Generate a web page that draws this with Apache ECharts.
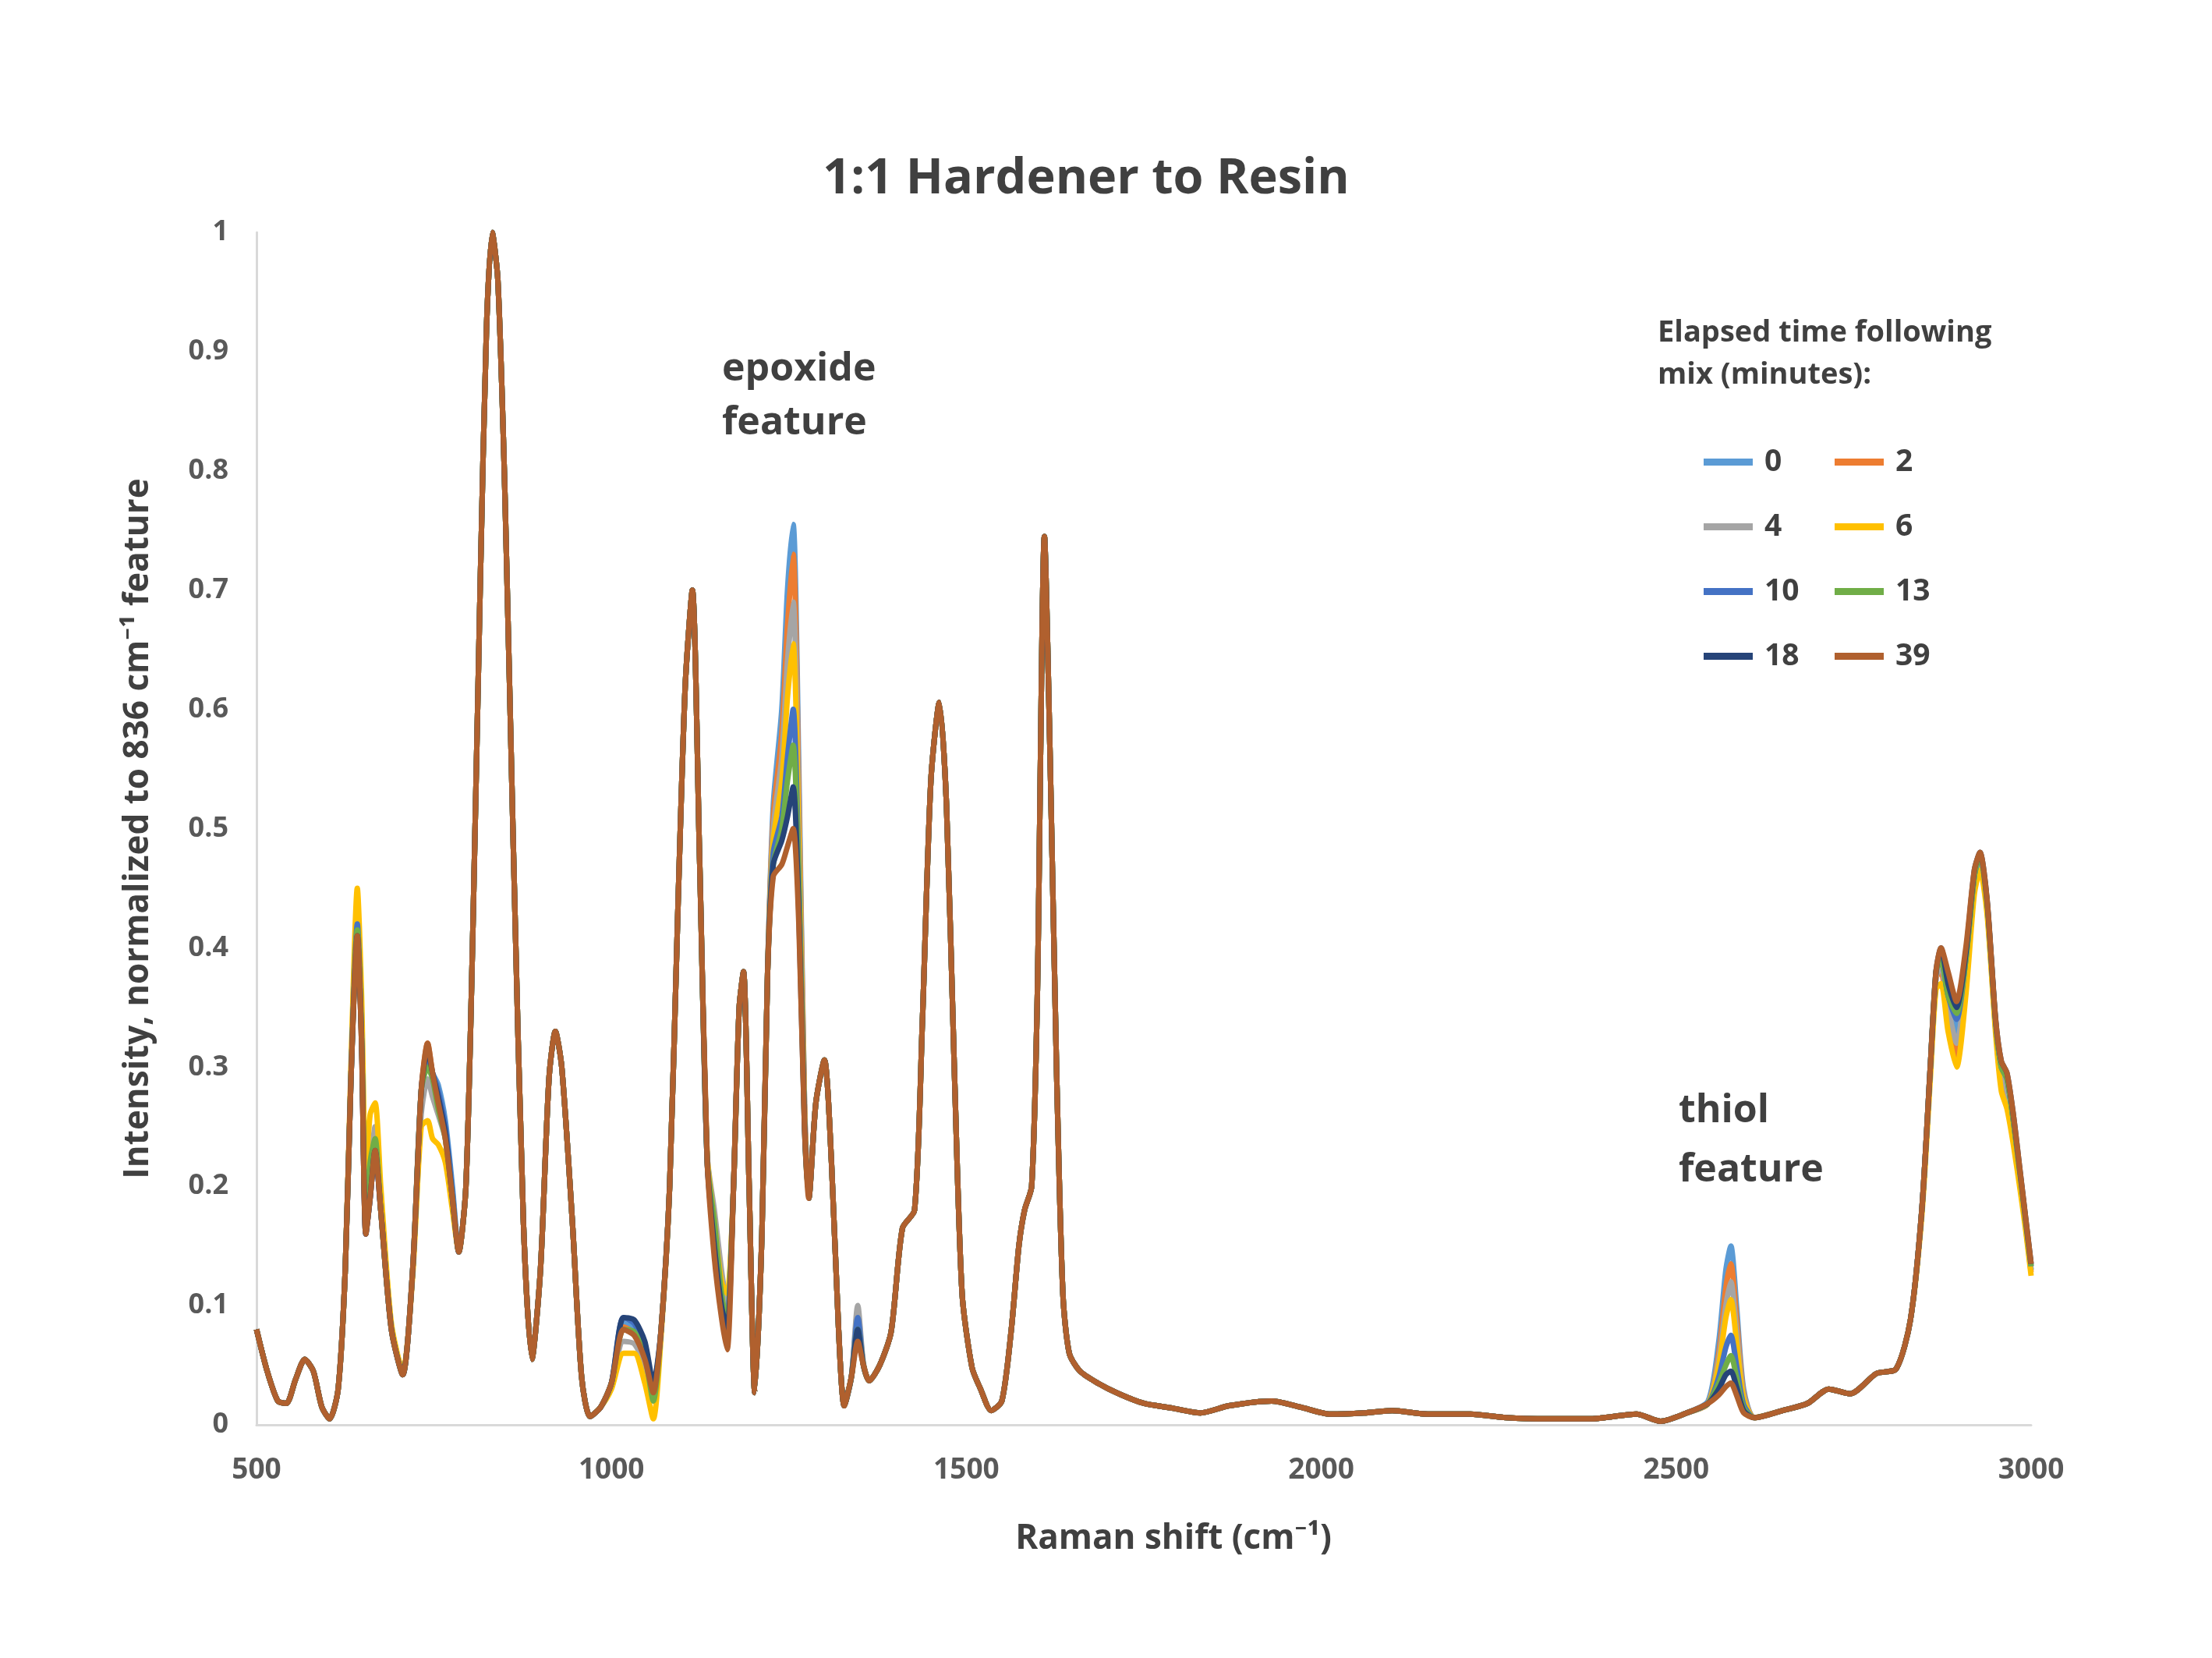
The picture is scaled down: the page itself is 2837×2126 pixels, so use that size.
<!DOCTYPE html>
<html>
<head>
<meta charset="utf-8">
<script src="https://cdn.jsdelivr.net/npm/echarts@6/dist/echarts.min.js"></script>
<style>
html,body{margin:0;padding:0;background:#fff;}
#chart{width:2837px;height:2126px;}
</style>
</head>
<body>
<div id="chart"></div>
<script>
// Raman shift (cm^-1) sample positions shared by all spectra
const ramanShift = [
500,515,530,542,555,568,580,592,603,615,
625,633,642,648,654,660,667,675,690,706,
720,732,741,748,756,766,776,785,795,805,
815,824,832,840,850,862,876,888,900,912,
921,930,945,958,970,985,1000,1017,1032,1047,
1059,1070,1082,1094,1104,1114,1124,1135,1145,1155,
1163,1172,1180,1186,1194,1202,1212,1220,1228,1240,
1248,1256,1264,1272,1278,1288,1300,1310,1320,1328,
1338,1347,1355,1363,1378,1394,1410,1427,1438,1450,
1462,1472,1483,1494,1508,1520,1535,1550,1563,1574,
1582,1592,1600,1610,1618,1627,1636,1645,1660,1685,
1715,1750,1790,1830,1870,1930,1970,2013,2060,2100,
2150,2210,2260,2320,2380,2444,2478,2515,2545,2560,
2570,2577,2585,2595,2610,2650,2685,2715,2745,2782,
2810,2830,2846,2858,2866,2873,2883,2895,2908,2920,
2928,2938,2950,2958,2966,2975,2985,2993,3000];

const t0 = [
0.080,0.045,0.020,0.018,0.038,0.055,0.045,0.015,0.005,0.030,
0.130,0.290,0.420,0.330,0.160,0.190,0.240,0.180,0.080,0.042,
0.130,0.280,0.310,0.295,0.285,0.255,0.200,0.145,0.200,0.420,
0.700,0.920,1.000,0.960,0.780,0.480,0.170,0.055,0.130,0.290,
0.330,0.300,0.170,0.040,0.007,0.015,0.035,0.085,0.080,0.060,
0.030,0.080,0.200,0.440,0.620,0.700,0.480,0.220,0.170,0.120,
0.100,0.200,0.350,0.380,0.200,0.027,0.160,0.380,0.520,0.600,
0.700,0.755,0.550,0.270,0.190,0.270,0.306,0.220,0.080,0.016,
0.040,0.095,0.050,0.037,0.050,0.078,0.165,0.180,0.337,0.540,
0.606,0.520,0.300,0.110,0.048,0.030,0.012,0.020,0.078,0.150,
0.180,0.200,0.360,0.745,0.560,0.300,0.110,0.060,0.045,0.035,
0.026,0.018,0.014,0.010,0.016,0.020,0.015,0.009,0.010,0.012,
0.009,0.009,0.006,0.005,0.005,0.009,0.003,0.010,0.020,0.070,
0.130,0.150,0.100,0.030,0.006,0.012,0.018,0.030,0.026,0.043,
0.047,0.088,0.180,0.300,0.375,0.390,0.360,0.330,0.380,0.455,
0.475,0.435,0.335,0.295,0.285,0.250,0.205,0.165,0.130];

const t2 = [
0.080,0.045,0.020,0.018,0.038,0.055,0.045,0.015,0.005,0.030,
0.130,0.290,0.410,0.320,0.160,0.190,0.235,0.180,0.080,0.042,
0.130,0.280,0.320,0.295,0.275,0.240,0.190,0.145,0.200,0.420,
0.700,0.920,1.000,0.960,0.780,0.480,0.170,0.055,0.130,0.290,
0.330,0.300,0.170,0.040,0.007,0.015,0.035,0.082,0.077,0.055,
0.027,0.080,0.200,0.440,0.620,0.700,0.480,0.220,0.160,0.110,
0.090,0.200,0.350,0.380,0.200,0.027,0.160,0.380,0.510,0.580,
0.670,0.730,0.530,0.270,0.190,0.270,0.306,0.220,0.080,0.016,
0.040,0.090,0.050,0.037,0.050,0.078,0.165,0.180,0.337,0.540,
0.606,0.520,0.300,0.110,0.048,0.030,0.012,0.020,0.078,0.150,
0.180,0.200,0.360,0.745,0.560,0.300,0.110,0.060,0.045,0.035,
0.026,0.018,0.014,0.010,0.016,0.020,0.015,0.009,0.010,0.012,
0.009,0.009,0.006,0.005,0.005,0.009,0.003,0.010,0.018,0.060,
0.115,0.135,0.090,0.027,0.006,0.012,0.018,0.030,0.026,0.043,
0.047,0.088,0.180,0.300,0.375,0.380,0.340,0.310,0.370,0.450,
0.470,0.432,0.332,0.285,0.270,0.240,0.200,0.162,0.128];

const t4 = [
0.080,0.045,0.020,0.018,0.038,0.055,0.045,0.015,0.005,0.030,
0.130,0.295,0.430,0.330,0.165,0.210,0.250,0.185,0.080,0.042,
0.130,0.260,0.290,0.275,0.260,0.240,0.190,0.145,0.200,0.420,
0.700,0.920,1.000,0.960,0.780,0.480,0.170,0.055,0.130,0.290,
0.330,0.300,0.170,0.040,0.007,0.015,0.035,0.070,0.068,0.050,
0.022,0.080,0.200,0.440,0.620,0.700,0.480,0.225,0.180,0.130,
0.100,0.200,0.350,0.380,0.200,0.027,0.160,0.380,0.500,0.560,
0.640,0.690,0.510,0.260,0.190,0.270,0.306,0.220,0.080,0.016,
0.040,0.100,0.052,0.037,0.050,0.078,0.165,0.180,0.337,0.540,
0.606,0.520,0.300,0.110,0.048,0.030,0.012,0.020,0.078,0.150,
0.180,0.200,0.360,0.745,0.560,0.300,0.110,0.060,0.045,0.035,
0.026,0.018,0.014,0.010,0.016,0.020,0.015,0.009,0.010,0.012,
0.009,0.009,0.006,0.005,0.005,0.009,0.003,0.010,0.018,0.055,
0.100,0.120,0.080,0.025,0.006,0.012,0.018,0.030,0.026,0.043,
0.047,0.088,0.180,0.300,0.375,0.385,0.350,0.320,0.375,0.455,
0.475,0.435,0.335,0.290,0.280,0.245,0.205,0.165,0.130];

const t6 = [
0.080,0.045,0.020,0.018,0.038,0.055,0.045,0.015,0.005,0.030,
0.130,0.300,0.450,0.360,0.210,0.260,0.270,0.200,0.085,0.045,
0.125,0.250,0.255,0.240,0.235,0.220,0.180,0.145,0.200,0.420,
0.700,0.920,1.000,0.960,0.780,0.480,0.170,0.055,0.130,0.290,
0.330,0.300,0.170,0.040,0.007,0.015,0.030,0.060,0.060,0.035,
0.005,0.075,0.200,0.440,0.620,0.700,0.480,0.225,0.170,0.120,
0.110,0.200,0.350,0.380,0.200,0.027,0.160,0.380,0.490,0.540,
0.610,0.655,0.490,0.260,0.190,0.270,0.306,0.220,0.080,0.016,
0.040,0.085,0.050,0.037,0.050,0.078,0.165,0.180,0.337,0.540,
0.606,0.520,0.300,0.110,0.048,0.030,0.012,0.020,0.078,0.150,
0.180,0.200,0.360,0.745,0.560,0.300,0.110,0.060,0.045,0.035,
0.026,0.018,0.014,0.010,0.016,0.020,0.015,0.009,0.010,0.012,
0.009,0.009,0.006,0.005,0.005,0.009,0.003,0.010,0.018,0.050,
0.090,0.105,0.070,0.022,0.006,0.012,0.018,0.030,0.026,0.043,
0.047,0.088,0.175,0.290,0.365,0.370,0.330,0.300,0.360,0.445,
0.465,0.428,0.328,0.280,0.265,0.235,0.195,0.160,0.125];

const t10 = [
0.080,0.045,0.020,0.018,0.038,0.055,0.045,0.015,0.005,0.030,
0.130,0.290,0.420,0.325,0.160,0.190,0.230,0.180,0.080,0.042,
0.130,0.280,0.310,0.295,0.280,0.250,0.195,0.145,0.200,0.420,
0.700,0.920,1.000,0.960,0.780,0.480,0.170,0.055,0.130,0.290,
0.330,0.300,0.170,0.040,0.007,0.015,0.035,0.090,0.085,0.065,
0.030,0.080,0.200,0.440,0.620,0.700,0.480,0.220,0.150,0.100,
0.090,0.200,0.350,0.380,0.200,0.027,0.160,0.380,0.480,0.510,
0.560,0.600,0.460,0.255,0.190,0.270,0.306,0.220,0.080,0.016,
0.040,0.090,0.050,0.037,0.050,0.078,0.165,0.180,0.337,0.540,
0.606,0.520,0.300,0.110,0.048,0.030,0.012,0.020,0.078,0.150,
0.180,0.200,0.360,0.745,0.560,0.300,0.110,0.060,0.045,0.035,
0.026,0.018,0.014,0.010,0.016,0.020,0.015,0.009,0.010,0.012,
0.009,0.009,0.006,0.005,0.005,0.009,0.003,0.010,0.018,0.040,
0.065,0.075,0.050,0.017,0.006,0.012,0.018,0.030,0.026,0.043,
0.047,0.088,0.180,0.300,0.380,0.390,0.360,0.340,0.390,0.460,
0.478,0.438,0.338,0.300,0.290,0.255,0.208,0.168,0.133];

const t13 = [
0.080,0.045,0.020,0.018,0.038,0.055,0.045,0.015,0.005,0.030,
0.130,0.290,0.415,0.325,0.165,0.220,0.240,0.180,0.080,0.042,
0.130,0.280,0.300,0.290,0.265,0.240,0.190,0.145,0.200,0.420,
0.700,0.920,1.000,0.960,0.780,0.480,0.170,0.055,0.130,0.290,
0.330,0.300,0.170,0.040,0.007,0.015,0.035,0.080,0.078,0.058,
0.020,0.080,0.200,0.440,0.620,0.700,0.480,0.220,0.170,0.110,
0.085,0.200,0.350,0.380,0.200,0.027,0.160,0.380,0.470,0.500,
0.540,0.570,0.450,0.250,0.190,0.270,0.306,0.220,0.080,0.016,
0.040,0.080,0.050,0.037,0.050,0.078,0.165,0.180,0.337,0.540,
0.606,0.520,0.300,0.110,0.048,0.030,0.012,0.020,0.078,0.150,
0.180,0.200,0.360,0.745,0.560,0.300,0.110,0.060,0.045,0.035,
0.026,0.018,0.014,0.010,0.016,0.020,0.015,0.009,0.010,0.012,
0.009,0.009,0.006,0.005,0.005,0.009,0.003,0.010,0.018,0.035,
0.050,0.058,0.040,0.014,0.006,0.012,0.018,0.030,0.026,0.043,
0.047,0.088,0.180,0.300,0.380,0.390,0.360,0.345,0.390,0.460,
0.478,0.438,0.338,0.300,0.290,0.255,0.208,0.168,0.133];

const t18 = [
0.080,0.045,0.020,0.018,0.038,0.055,0.045,0.015,0.005,0.030,
0.130,0.290,0.410,0.320,0.160,0.190,0.230,0.180,0.080,0.042,
0.130,0.280,0.315,0.295,0.275,0.245,0.190,0.145,0.200,0.420,
0.700,0.920,1.000,0.960,0.780,0.480,0.170,0.055,0.130,0.290,
0.330,0.300,0.170,0.040,0.007,0.015,0.035,0.090,0.088,0.070,
0.035,0.080,0.200,0.440,0.620,0.700,0.480,0.220,0.150,0.100,
0.080,0.200,0.350,0.380,0.200,0.027,0.160,0.380,0.470,0.490,
0.510,0.535,0.430,0.250,0.190,0.270,0.306,0.220,0.080,0.016,
0.040,0.080,0.050,0.037,0.050,0.078,0.165,0.180,0.337,0.540,
0.606,0.520,0.300,0.110,0.048,0.030,0.012,0.020,0.078,0.150,
0.180,0.200,0.360,0.745,0.560,0.300,0.110,0.060,0.045,0.035,
0.026,0.018,0.014,0.010,0.016,0.020,0.015,0.009,0.010,0.012,
0.009,0.009,0.006,0.005,0.005,0.009,0.003,0.010,0.018,0.030,
0.042,0.045,0.032,0.012,0.006,0.012,0.018,0.030,0.026,0.043,
0.047,0.088,0.180,0.300,0.380,0.400,0.370,0.350,0.395,0.465,
0.480,0.440,0.340,0.305,0.295,0.260,0.210,0.170,0.135];

const t39 = [
0.080,0.045,0.020,0.018,0.038,0.055,0.045,0.015,0.005,0.030,
0.130,0.290,0.410,0.320,0.160,0.190,0.230,0.180,0.080,0.042,
0.130,0.280,0.320,0.295,0.270,0.240,0.190,0.145,0.200,0.420,
0.700,0.920,1.000,0.960,0.780,0.480,0.170,0.055,0.130,0.290,
0.330,0.300,0.170,0.040,0.007,0.015,0.035,0.080,0.075,0.055,
0.027,0.080,0.200,0.440,0.620,0.700,0.480,0.220,0.140,0.090,
0.063,0.200,0.350,0.380,0.200,0.027,0.160,0.380,0.460,0.470,
0.485,0.500,0.420,0.250,0.190,0.270,0.306,0.220,0.080,0.016,
0.040,0.070,0.050,0.037,0.050,0.078,0.165,0.180,0.337,0.540,
0.606,0.520,0.300,0.110,0.048,0.030,0.012,0.020,0.078,0.150,
0.180,0.200,0.360,0.745,0.560,0.300,0.110,0.060,0.045,0.035,
0.026,0.018,0.014,0.010,0.016,0.020,0.015,0.009,0.010,0.012,
0.009,0.009,0.006,0.005,0.005,0.009,0.003,0.010,0.018,0.025,
0.032,0.035,0.025,0.010,0.006,0.012,0.018,0.030,0.026,0.043,
0.047,0.088,0.180,0.300,0.380,0.400,0.380,0.355,0.400,0.465,
0.480,0.440,0.340,0.305,0.295,0.260,0.210,0.170,0.135];

const seriesNames = ['0','2','4','6','10','13','18','39'];
const seriesValues = [t0,t2,t4,t6,t10,t13,t18,t39];
const seriesColors = ['#5B9BD5','#ED7D31','#A5A5A5','#FFC000','#4472C4','#70AD47','#264478','#B0602E'];
const xTicks = [500,1000,1500,2000,2500,3000];

const FONT = '"Open Sans", "Noto Sans", sans-serif';
const chart = echarts.init(document.getElementById('chart'), null, {renderer:'canvas'});

const series = seriesNames.map((name, i) => ({
  name: name,
  type: 'line',
  data: ramanShift.map((x, k) => [x, seriesValues[i][k]]),
  symbol: 'none',
  showSymbol: false,
  smooth: 0.25,
  lineStyle: { width: 7, color: seriesColors[i] },
  itemStyle: { color: seriesColors[i] },
  z: 2 + i
}));

const legendBase = {
  orient: 'vertical',
  itemWidth: 63,
  itemHeight: 9,
  itemGap: 44,
  icon: 'rect',
  textStyle: { fontFamily: FONT, fontSize: 39, fontWeight: 'bold', color: '#404040', lineHeight: 39, padding: [0,0,0,10] },
  selectedMode: false
};

chart.setOption({
  animation: false,
  backgroundColor: '#ffffff',
  grid: { left: 329, right: 232, top: 298, bottom: 299, containLabel: false },
  xAxis: {
    type: 'value', min: xTicks[0], max: xTicks[xTicks.length-1], interval: 500,
    name: 'Raman shift (cm\u207B\u00B9)', nameLocation: 'middle', nameGap: 124,
    nameTextStyle: { fontFamily: FONT, fontSize: 44, fontWeight: 'bold', color: '#404040', padding: [0,0,0,76] },
    axisLine: { show: true, lineStyle: { color: '#D9D9D9', width: 3 } },
    axisTick: { show: false },
    splitLine: { show: false },
    axisLabel: { fontFamily: FONT, fontSize: 37, fontWeight: 'bold', color: '#595959', margin: 40, formatter: v => String(v) }
  },
  yAxis: {
    type: 'value', min: 0, max: 1, interval: 0.1,
    name: 'Intensity, normalized to 836 cm\u207B\u00B9 feature', nameLocation: 'middle', nameGap: 130, nameRotate: 90,
    nameTextStyle: { fontFamily: FONT, fontSize: 44, fontWeight: 'bold', color: '#404040' },
    axisLine: { show: true, lineStyle: { color: '#D9D9D9', width: 3 } },
    axisTick: { show: false },
    splitLine: { show: false },
    axisLabel: { fontFamily: FONT, fontSize: 36, fontWeight: 'bold', color: '#595959', margin: 36 }
  },
  legend: [
    Object.assign({}, legendBase, { left: 2180, top: 568, data: ['0','4','10','18'] }),
    Object.assign({}, legendBase, { left: 2348, top: 568, data: ['2','6','13','39'] })
  ],
  graphic: [
    { type: 'text', x: 1393, y: 230, style: { text: '1:1 Hardener to Resin', fontFamily: FONT, fontSize: 63, fontWeight: 'bold', fill: '#404040', textAlign: 'center', textVerticalAlign: 'middle' } },
    { type: 'text', x: 926, y: 474, style: { text: 'epoxide', fontFamily: FONT, fontSize: 50, fontWeight: 'bold', fill: '#404040', textAlign: 'left', textVerticalAlign: 'middle' } },
    { type: 'text', x: 926, y: 543, style: { text: 'feature', fontFamily: FONT, fontSize: 50, fontWeight: 'bold', fill: '#404040', textAlign: 'left', textVerticalAlign: 'middle' } },
    { type: 'text', x: 2153, y: 1425, style: { text: 'thiol', fontFamily: FONT, fontSize: 50, fontWeight: 'bold', fill: '#404040', textAlign: 'left', textVerticalAlign: 'middle' } },
    { type: 'text', x: 2153, y: 1501, style: { text: 'feature', fontFamily: FONT, fontSize: 50, fontWeight: 'bold', fill: '#404040', textAlign: 'left', textVerticalAlign: 'middle' } },
    { type: 'text', x: 2126, y: 427, style: { text: 'Elapsed time following', fontFamily: FONT, fontSize: 38, fontWeight: 'bold', fill: '#404040', textAlign: 'left', textVerticalAlign: 'middle' } },
    { type: 'text', x: 2126, y: 481, style: { text: 'mix (minutes):', fontFamily: FONT, fontSize: 38, fontWeight: 'bold', fill: '#404040', textAlign: 'left', textVerticalAlign: 'middle' } }
  ],
  series: series
});
</script>
</body>
</html>
